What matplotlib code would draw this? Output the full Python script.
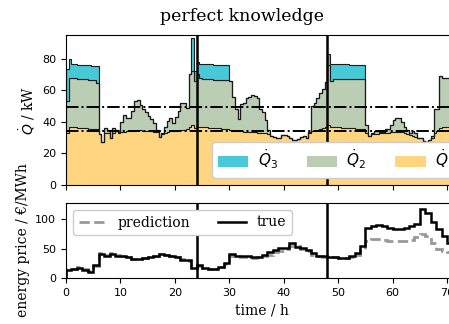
import numpy as np
import matplotlib
matplotlib.use("Agg")
import matplotlib.pyplot as plt
from matplotlib.patches import Patch

# ---- heat flows, half-hourly resolution (kW) ----
q1 = [33, 37, 36.5, 36.5, 36, 36, 36, 36, 35.5, 35.5, 35.5, 35.5,
      32.5, 27.5, 33, 33, 30, 33, 34, 33, 33.5, 33.5, 34, 34,
      34, 34.5, 35, 35, 34.5, 34.5, 34, 34, 33.5, 33.5, 30.5, 32,
      33, 33.5, 34, 34, 34, 34.5, 35, 35, 35.5, 37, 38, 36,
      36.5, 36.5, 36.5, 36.5, 36, 36, 36, 36, 36, 35.5, 35.5, 35.5,
      35, 34.5, 34, 34, 34, 33.5, 33.5, 33.5, 33.5, 33.5, 33, 33,
      33, 33, 32.5, 31, 30.5, 30, 30, 31.5, 31.5, 31, 29.5, 28.5,
      28.5, 29, 30.5, 31, 30, 33, 34, 34.5, 35, 35.5, 36, 36.5,
      38, 37, 36.5, 36.5, 36.5, 36, 36, 36, 36, 36, 35.5, 35.5,
      35.5, 35.5, 33, 31, 32, 32, 32.5, 33, 33, 33, 33, 33.5,
      33.5, 33.5, 33.5, 33.5, 33, 32.5, 31.5, 31, 30.5, 30, 29.5, 28,
      27.5, 28.5, 30, 33, 34, 36, 36.5, 37, 37, 37, 37, 37]
q2 = [20, 31, 31, 31, 31, 31, 31, 31, 31, 31, 31, 29,
      0, 0, 3, 2, 0, 3, 1, 0.5, 6.5, 11, 8.5, 8.5,
      13, 18.5, 19, 15.5, 13.5, 11.5, 9.5, 7.5, 5.5, 1.5, 0, 1,
      4, 7, 8.5, 5, 9, 12.5, 17, 17, 13.5, 33, 34, 30,
      33.5, 31, 30.5, 30.5, 31, 31, 30.5, 30.5, 30.5, 31, 31, 31,
      31, 21.5, 14, 8, 17, 18.5, 21.5, 22, 23.5, 23, 22, 15,
      13, 8, 2.5, 0, 0, 0, 0, 0, 0, 0, 0, 0,
      0, 0, 0, 0, 0, 0.5, 16, 17.5, 20, 22.5, 25, 28.5,
      38, 29, 30.5, 30.5, 30.5, 31, 31, 31, 31, 31, 31.5, 31.5,
      31.5, 31.5, 5, 0, 1, 2, 1.5, 0.5, 0.5, 2.5, 2.5, 4.5,
      7.5, 9, 9, 6.5, 3.5, 2.5, 1.5, 3.5, 2.5, 0, 0, 0,
      0, 0, 1, 15, 14, 33, 31.5, 31, 31, 31, 31, 31]
q3 = [20.5, 12, 9, 9, 9, 9, 9, 9, 9.5, 9, 9, 11,
      0, 0, 0, 0, 0, 0, 0, 0, 0, 0, 0, 0,
      0, 0, 0, 0, 0, 0, 0, 0, 0, 0, 0, 0,
      0, 0, 0, 0, 0, 0, 0, 0, 0, 0, 21, 6,
      8, 9, 9.5, 9.5, 9.5, 9.5, 9.5, 9.5, 9.5, 9.5, 9.5, 9.5,
      0, 0, 0, 0, 0, 0, 0, 0, 0, 0, 0, 0,
      0, 0, 0, 0, 0, 0, 0, 0, 0, 0, 0, 0,
      0, 0, 0, 0, 0, 0, 0, 0, 0, 0, 0, 0,
      7, 10.5, 9.5, 9.5, 9.5, 9.5, 9.5, 9.5, 9, 9, 9, 9,
      9, 9, 0, 0, 0, 0, 0, 0, 0, 0, 0, 0,
      0, 0, 0, 0, 0, 0, 0, 0, 0, 0, 0, 0,
      0, 0, 0, 0, 0, 0, 0, 0, 0, 0, 0, 0]

# threshold levels (kW)
level_high = 49.5
level_low = 34.5

# ---- energy prices, hourly (EUR/MWh) ----
price_true = [13.8, 15.5, 16.7, 13.8, 10.9, 22.4, 40.8, 36.8, 41.4, 38, 36.8, 35,
              32.2, 32.8, 34, 35, 36.8, 40.2, 38.5, 36.8, 35, 31, 30, 16.7,
              22.4, 16.7, 15.5, 15.5, 18.4, 25, 40.8, 38, 37, 36.8, 35.6, 35.6,
              39.7, 44.3, 48.3, 51, 51, 59.8, 52.9, 51, 48.3, 42.5, 36.8, 36.8,
              35, 35, 34, 34, 37, 42.5, 55, 85, 89, 90,
              89, 86, 84, 84, 86, 89, 93, 118, 111, 95, 83, 72, 60, 55]
price_pred = [15, 16, 18, 15, 12, 21, 42, 40, 43, 39, 37, 35,
              33, 33, 34, 35, 37, 41, 39, 37, 35, 33, 29, 18,
              21, 17, 16, 16, 19, 24, 38, 37, 36, 36, 34, 35,
              37, 40, 44, 46, 49, 55, 54, 50, 46, 40, 37, 36,
              35, 35, 34, 34, 36, 40, 50, 63, 67, 66,
              65, 64, 64, 64, 64, 65, 70, 75, 71, 60, 50, 46, 45, 45]

day_marks = [24, 48]
x_ticks = [0, 10, 20, 30, 40, 50, 60, 70]

c_q1 = "#FFD580"
c_q2 = "#BBCDB3"
c_q3 = "#48C9D8"

q1 = np.asarray(q1, float)
q2 = np.asarray(q2, float)
q3 = np.asarray(q3, float)
edges_q = np.arange(len(q1) + 1) * 0.5
edges_p = np.arange(len(price_true) + 1)

fig = plt.figure(figsize=(4.49, 3.24), dpi=100)
W, H = 449, 324
ax_left = 66 / W
ax_width = 392 / W
ax1 = fig.add_axes([ax_left, 139 / H, ax_width, 150 / H])
ax2 = fig.add_axes([ax_left, 46 / H, ax_width, 75 / H])

serif = "DejaVu Serif"

# stacked heat flows
ax1.stairs(q1, edges_q, baseline=0, fill=True, facecolor=c_q1,
           edgecolor="#4a4a4a", linewidth=0.7)
ax1.stairs(q1 + q2, edges_q, baseline=q1, fill=True, facecolor=c_q2,
           edgecolor="#1a1a1a", linewidth=0.8)
ax1.stairs(q1 + q2 + q3, edges_q, baseline=q1 + q2, fill=True,
           facecolor=c_q3, edgecolor="#1a1a1a", linewidth=0.8)
for lvl in (level_high, level_low):
    ax1.axhline(lvl, color="k", linestyle="-.", linewidth=1.4, zorder=4)
for d in day_marks:
    ax1.axvline(d, color="k", linewidth=1.8, zorder=5)

ax1.set_xlim(0, 72)
ax1.set_ylim(0, 95)
ax1.set_yticks([0, 20, 40, 60, 80])
ax1.set_xticks(x_ticks)
ax1.tick_params(labelbottom=False, labelsize=8)
ax1.set_ylabel(r"$\dot{Q}$ / kW", family=serif, fontsize=10)

handles = [Patch(facecolor=c_q3), Patch(facecolor=c_q2), Patch(facecolor=c_q1)]
labels = [r"$\dot{Q}_3$", r"$\dot{Q}_2$", r"$\dot{Q}_1$"]
leg1 = ax1.legend(handles, labels, ncol=3, loc="lower left",
                  bbox_to_anchor=(0.372, 0.05), borderaxespad=0,
                  fontsize=11, framealpha=1, handletextpad=0.6,
                  columnspacing=1.9)
leg1.set_zorder(6)

# prices
ax2.stairs(price_pred, edges_p, color="#999999", linestyle="--",
           linewidth=2, label="prediction")
ax2.stairs(price_true, edges_p, color="k", linewidth=1.8, label="true")
for d in day_marks:
    ax2.axvline(d, color="k", linewidth=1.8, zorder=5)
ax2.set_xlim(0, 72)
ax2.set_ylim(0, 128)
ax2.set_yticks([0, 50, 100])
ax2.set_xticks(x_ticks)
ax2.tick_params(labelsize=8)
ax2.set_xlabel("time / h", family=serif, fontsize=10)
ax2.set_ylabel("energy price / €/MWh", family=serif, fontsize=10)
ax2.legend(loc="upper left", ncol=2, prop={"family": serif, "size": 10},
           framealpha=1)

fig.text(242 / W, 1 - 21 / H, "perfect knowledge", family=serif,
         fontsize=12.5, ha="center", va="baseline")

fig.savefig("out.png", dpi=100)
